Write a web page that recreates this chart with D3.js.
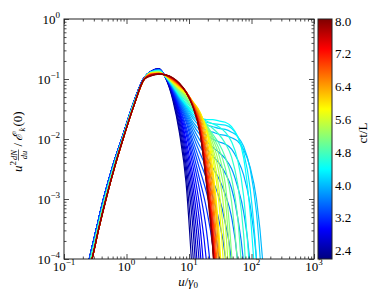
<!DOCTYPE html>
<html>
<head>
<meta charset="utf-8">
<script src="https://cdn.jsdelivr.net/npm/d3@7"></script>
<style>
body { margin: 0; background: #fff; }
svg text { font-family: "Liberation Serif", "DejaVu Serif", serif; fill: #000; }
</style>
</head>
<body>
<div id="chart"></div>
<script>
// ---- values ----
// u grid for the peak + tail part of every curve
var uTail = [2.5, 3.3, 4.2, 5.5, 7, 9, 11.5, 15, 19, 24, 30, 38, 48, 60, 75, 95, 120, 150, 190];

// rising branch, nearly the same for all curves (early ones sit a bit left)
var riseEarly = [[0.2, 3.5e-5], [0.254, 1e-4], [0.33, 3.2e-4], [0.428, 1e-3], [0.6, 3.5e-3], [0.838, 0.01], [1.25, 0.036], [1.86, 0.1]];
var riseMid = [[0.21, 3.6e-5], [0.267, 1e-4], [0.345, 3.2e-4], [0.449, 1e-3], [0.625, 3.5e-3], [0.86, 0.01], [1.27, 0.0355], [1.9, 0.1]];
var riseLate = [[0.22, 3.7e-5], [0.281, 1e-4], [0.36, 3.2e-4], [0.47, 1e-3], [0.65, 3.5e-3], [0.88, 0.01], [1.3, 0.035], [1.93, 0.1]];

// ct/L of every curve
var times = [2.3, 2.4, 2.5, 2.6, 2.7, 2.8, 2.9, 3.0, 3.1, 3.2, 3.3, 3.4, 3.5, 3.6, 3.7, 3.8, 3.9, 4.0,
  4.1, 4.25, 4.4, 4.55, 4.7, 4.85, 5.0, 5.15, 5.3, 5.45, 5.6, 5.75, 5.9, 6.1, 6.3, 6.5, 6.7, 6.9, 7.1, 7.3, 7.5, 7.7, 7.85, 8.0];

// u^2 dN/du at uTail for each curve (list stops once it is below the axis)
var tails = [
  [.136, .148, .105, .045, .013, .0018, 4e-5],
  [.136, .148, .106, .048, .015, .0026, 1.3e-4, 2e-6],
  [.136, .147, .107, .051, .018, .0036, 3.5e-4, 5e-6],
  [.135, .147, .107, .054, .021, .0048, 6.5e-4, 2e-5],
  [.135, .146, .108, .056, .024, .0062, .0011, 6e-5, 1e-6],
  [.135, .146, .108, .058, .027, .0078, .0017, 1.5e-4, 4e-6],
  [.135, .145, .109, .06, .029, .0095, .0025, 3.5e-4, 2e-5],
  [.134, .145, .109, .062, .031, .012, .0036, 7e-4, 9e-5, 2e-6],
  [.134, .144, .109, .064, .034, .014, .0048, .0013, 3e-4, 3e-5],
  [.134, .144, .109, .065, .036, .016, .0062, .002, 7e-4, 1.6e-4, 1.2e-5],
  [.133, .143, .11, .067, .038, .019, .0078, .003, .0013, 4.5e-4, 1.1e-4, 6e-6],
  [.133, .143, .11, .068, .04, .021, .0095, .0042, .0022, .0011, 4.5e-4, 1.1e-4, 4e-6],
  [.133, .142, .11, .07, .042, .023, .0115, .0058, .0034, .002, .0011, 4e-4, 8e-5, 1e-6],
  [.132, .142, .11, .071, .044, .025, .0135, .0075, .005, .0033, .0022, .0012, 5e-4, 9e-5, 2e-6],
  [.132, .141, .11, .072, .046, .027, .0155, .0095, .007, .0052, .004, .0027, .0015, 5e-4, 8e-5, 1e-6],
  [.132, .141, .11, .073, .047, .029, .0175, .0118, .0092, .0073, .006, .0047, .0032, .0016, 6e-4, 8e-5, 1e-6],
  [.131, .14, .11, .074, .049, .031, .0195, .014, .0115, .01, .009, .0082, .0068, .0045, .0025, 8e-4, 1e-4, 2e-6],
  [.131, .14, .11, .075, .05, .033, .022, .0165, .014, .013, .012, .0115, .0105, .0092, .0066, .0034, .001, 1e-4, 1e-6],
  [.131, .139, .11, .076, .051, .035, .024, .019, .017, .016, .015, .0145, .013, .011, .0075, .0032, 6e-4, 3e-5],
  [.131, .138, .11, .077, .052, .036, .026, .021, .019, .018, .0175, .017, .015, .011, .006, .0015, 1e-4, 1e-6],
  [.13, .137, .11, .078, .053, .037, .028, .023, .021, .021, .02, .019, .016, .011, .0048, 6e-4, 2e-5],
  [.13, .136, .111, .079, .055, .039, .029, .023, .02, .018, .016, .013, .009, .0045, .0011, 5e-5],
  [.129, .135, .111, .08, .057, .042, .031, .023, .018, .015, .012, .0085, .005, .0018, 2.5e-4, 3e-6],
  [.129, .134, .111, .081, .059, .045, .032, .023, .017, .012, .0085, .005, .0022, 5e-4, 2e-5],
  [.128, .133, .112, .083, .062, .047, .033, .024, .017, .011, .007, .0033, 9e-4, 8e-5, 1e-6],
  [.128, .132, .112, .085, .065, .05, .035, .024, .017, .01, .0055, .0018, 1.2e-4, 2e-6],
  [.127, .131, .113, .086, .066, .052, .037, .025, .016, .0085, .004, .001, 4e-5, 1e-6],
  [.126, .13, .113, .087, .068, .054, .038, .026, .015, .007, .0028, 4e-4, 8e-6],
  [.126, .129, .113, .088, .069, .055, .04, .027, .015, .006, .0015, 1.2e-4, 1e-6],
  [.125, .128, .114, .088, .07, .057, .041, .028, .0145, .0048, 9e-4, 3e-5],
  [.125, .127, .114, .089, .072, .058, .042, .028, .014, .0032, 3e-4, 4e-6],
  [.124, .126, .115, .091, .074, .059, .042, .027, .011, .0025, 2e-4, 2e-6],
  [.123, .125, .115, .093, .076, .06, .041, .025, .0088, .0018, 1.3e-4, 1e-6],
  [.122, .124, .116, .095, .078, .061, .04, .022, .0068, .0012, 7e-5],
  [.121, .124, .116, .097, .079, .061, .039, .02, .0053, 8e-4, 3e-5],
  [.12, .123, .116, .099, .08, .061, .038, .018, .0042, 5e-4, 1.5e-5],
  [.119, .123, .117, .1, .081, .061, .037, .016, .0032, 3.5e-4, 8e-6],
  [.118, .122, .117, .101, .082, .061, .036, .015, .0026, 2.5e-4, 4e-6],
  [.117, .122, .117, .102, .083, .06, .036, .014, .0022, 2e-4, 2e-6],
  [.116, .121, .117, .103, .084, .06, .035, .013, .002, 1.7e-4, 1e-6],
  [.115, .121, .117, .104, .085, .06, .035, .0128, .0019, 1.6e-4, 1e-6],
  [.113, .121, .117, .105, .085, .06, .035, .0125, .0018, 1.5e-4, 1e-5]
];

var xExps = [-1, 0, 1, 2, 3];
var yExps = [-4, -3, -2, -1, 0];
var cbTicks = [2.4, 3.2, 4.0, 4.8, 5.6, 6.4, 7.2, 8.0];
var cbRange = [2.2, 8.05];

// ---- layout ----
var svgWidth = 382;
var svgHeight = 306;
var plot = { left: 64, right: 314, top: 19, bottom: 259 };
var bar = { left: 318, right: 332 };

var svg = d3.select("#chart").append("svg")
  .attr("width", svgWidth)
  .attr("height", svgHeight);

var xScale = d3.scaleLog().domain([0.1, 1000]).range([plot.left, plot.right]);
var yScale = d3.scaleLog().domain([1e-4, 1]).range([plot.bottom, plot.top]);
var cbScale = d3.scaleLinear().domain(cbRange).range([plot.bottom, plot.top]);

// jet colormap
var jetStops = [0, 0.125, 0.375, 0.625, 0.875, 1];
var jetColors = ["#00007f", "#0000ff", "#00ffff", "#ffff00", "#ff0000", "#7f0000"];
var jet = d3.scaleLinear()
  .domain(jetStops.map(function(f) { return cbRange[0] + f * (cbRange[1] - cbRange[0]); }))
  .range(jetColors)
  .interpolate(d3.interpolateRgb);

// clip the curves to the axes box
svg.append("defs").append("clipPath").attr("id", "clip")
  .append("rect")
  .attr("x", plot.left).attr("y", plot.top)
  .attr("width", plot.right - plot.left).attr("height", plot.bottom - plot.top);

var line = d3.line()
  .x(function(d) { return xScale(d[0]); })
  .y(function(d) { return yScale(d[1]); })
  .curve(d3.curveMonotoneX);

var curves = svg.append("g").attr("clip-path", "url(#clip)");
times.forEach(function(t, i) {
  var rise = t < 3.5 ? riseEarly : (t < 5 ? riseMid : riseLate);
  var pts = rise.concat(tails[i].map(function(v, j) { return [uTail[j], v]; }));
  curves.append("path")
    .datum(pts)
    .attr("d", line)
    .attr("fill", "none")
    .attr("stroke", jet(t))
    .attr("stroke-width", 1.2);
});

// ---- axes ----
function minorsOf(exps) {
  var out = [];
  exps.slice(0, -1).forEach(function(e) {
    for (var k = 2; k < 10; k++) out.push(k * Math.pow(10, e));
  });
  return out;
}
var xMajor = xExps.map(function(e) { return Math.pow(10, e); });
var yMajor = yExps.map(function(e) { return Math.pow(10, e); });
var xMinor = minorsOf(xExps);
var yMinor = minorsOf(yExps);

function tickAxis(axisFn, scale, values, size, transform) {
  var g = svg.append("g")
    .attr("transform", transform)
    .call(axisFn(scale).tickValues(values).tickSize(-size).tickFormat(""));
  g.select(".domain").remove();
  g.selectAll("line").attr("stroke", "#222").attr("stroke-width", 0.8);
  return g;
}
[[xMajor, 5], [xMinor, 2.5]].forEach(function(p) {
  tickAxis(d3.axisBottom, xScale, p[0], p[1], "translate(0," + plot.bottom + ")");
  tickAxis(d3.axisTop, xScale, p[0], p[1], "translate(0," + plot.top + ")");
});
[[yMajor, 5], [yMinor, 2.5]].forEach(function(p) {
  tickAxis(d3.axisLeft, yScale, p[0], p[1], "translate(" + plot.left + ",0)");
  tickAxis(d3.axisRight, yScale, p[0], p[1], "translate(" + plot.right + ",0)");
});

svg.append("rect")
  .attr("x", plot.left).attr("y", plot.top)
  .attr("width", plot.right - plot.left).attr("height", plot.bottom - plot.top)
  .attr("fill", "none").attr("stroke", "#222").attr("stroke-width", 1);

function powLabel(sel, e) {
  sel.append("tspan").text("10");
  sel.append("tspan").attr("dy", -6).attr("font-size", 9)
    .text(e < 0 ? "\u2212" + (-e) : String(e));
}

xExps.forEach(function(e) {
  svg.append("text")
    .attr("x", xScale(Math.pow(10, e)))
    .attr("y", 271)
    .attr("text-anchor", "middle")
    .attr("font-size", 13)
    .call(powLabel, e);
});
yExps.forEach(function(e) {
  svg.append("text")
    .attr("x", 60)
    .attr("y", yScale(Math.pow(10, e)) + 4.5)
    .attr("text-anchor", "end")
    .attr("font-size", 13)
    .call(powLabel, e);
});

// x title: u / gamma_0
var xt = svg.append("text")
  .attr("x", 188).attr("y", 286)
  .attr("text-anchor", "middle")
  .attr("font-size", 13);
xt.append("tspan").attr("font-style", "italic").text("u");
xt.append("tspan").text("/");
xt.append("tspan").attr("font-style", "italic").text("\u03b3");
xt.append("tspan").attr("font-size", 9).attr("dy", 2).text("0");

// y title: u^2 dN/du / E_k(0), built in a rotated frame
var yt = svg.append("g").attr("transform", "translate(22,139) rotate(-90)");
yt.append("text").attr("x", -33).attr("y", 0).attr("font-size", 13)
  .attr("font-style", "italic").text("u");
yt.append("text").attr("x", -26.5).attr("y", -6).attr("font-size", 9).text("2");
yt.append("text").attr("x", -16).attr("y", -5).attr("font-size", 8.5)
  .attr("text-anchor", "middle").attr("font-style", "italic").text("dN");
yt.append("line").attr("x1", -21.5).attr("x2", -10.5).attr("y1", -3.5).attr("y2", -3.5)
  .attr("stroke", "#000").attr("stroke-width", 0.6);
yt.append("text").attr("x", -16).attr("y", 4.5).attr("font-size", 8.5)
  .attr("text-anchor", "middle").attr("font-style", "italic").text("du");
yt.append("text").attr("x", -7.5).attr("y", 0).attr("font-size", 13).text("/");
yt.append("text").attr("x", -2).attr("y", 0).attr("font-size", 13)
  .attr("font-style", "italic").text("\u2130");
yt.append("text").attr("x", 7.5).attr("y", 3).attr("font-size", 8.5)
  .attr("font-style", "italic").text("k");
yt.append("text").attr("x", 12.5).attr("y", 0).attr("font-size", 13).text("(0)");

// ---- colorbar ----
var grad = svg.select("defs").append("linearGradient")
  .attr("id", "jetGrad")
  .attr("x1", 0).attr("y1", 1).attr("x2", 0).attr("y2", 0);
jetStops.forEach(function(f, i) {
  grad.append("stop").attr("offset", f).attr("stop-color", jetColors[i]);
});
svg.append("rect")
  .attr("x", bar.left).attr("y", plot.top)
  .attr("width", bar.right - bar.left).attr("height", plot.bottom - plot.top)
  .attr("fill", "url(#jetGrad)")
  .attr("stroke", "#222").attr("stroke-width", 1);

cbTicks.forEach(function(v) {
  svg.append("text")
    .attr("x", bar.right + 3)
    .attr("y", cbScale(v) + 4.5)
    .attr("font-size", 13)
    .text(v.toFixed(1));
});
svg.append("text")
  .attr("transform", "translate(367,133) rotate(-90)")
  .attr("text-anchor", "middle")
  .attr("font-size", 13)
  .text("ct/L");
</script>
</body>
</html>
